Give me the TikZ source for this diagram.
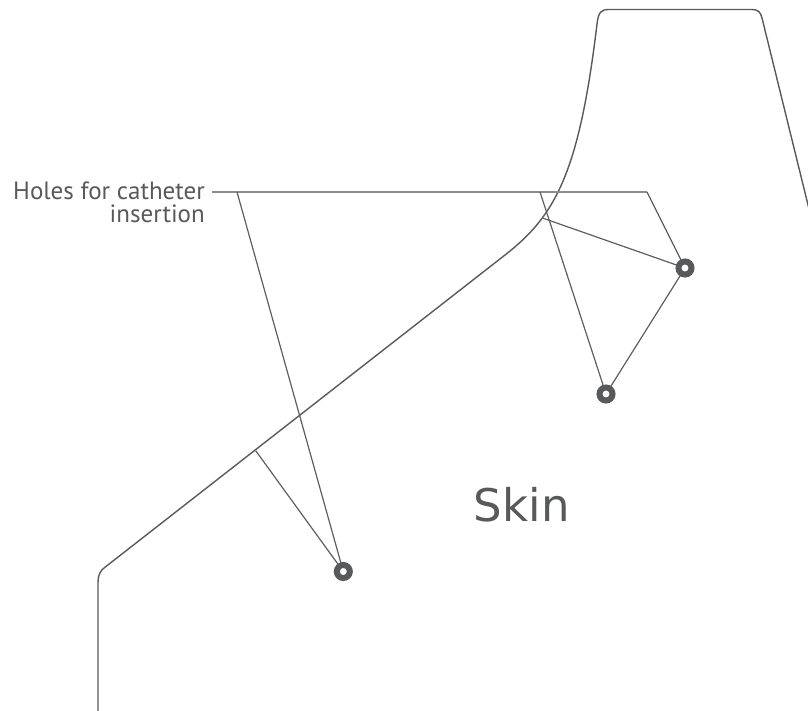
\documentclass[tikz,border=0pt]{standalone}
\usepackage{fontspec}
\setmainfont{PT Sans}
\newfontfamily\skinfont{DejaVu Sans}
\definecolor{ink}{HTML}{58595B}
\definecolor{lead}{HTML}{5E5E5E}
\definecolor{hline}{HTML}{8C8C8C}
\begin{document}
\begin{tikzpicture}[x=1pt,y=-1pt,
  outline/.style={draw=ink,line width=1.4pt,line join=round},
  leader/.style={draw=lead,line width=1.2pt},
  hleader/.style={draw=hline,line width=1.3pt},
  hole/.style={circle,draw=ink,line width=6pt,fill=white,minimum size=13pt,inner sep=0pt,outer sep=0pt},
  lbl/.style={anchor=base east,align=right,inner sep=0pt,text=ink,font=\fontsize{25}{23}\selectfont},
  skinlbl/.style={anchor=base,inner sep=0pt,text=ink,font=\skinfont\fontsize{45}{45}\selectfont}]
\useasboundingbox (0,0) rectangle (808,710);
\clip (0,0) rectangle (808,710);
% skin outline
\draw[outline] (98,716) -- (98,582) .. controls (98,575) and (100.5,570.7) .. (104,568)
  -- (505,255) .. controls (555,216) and (579,174) .. (597,24)
  .. controls (598.5,12) and (601,9.5) .. (609,9.5) -- (752,9.5)
  .. controls (758,9.5) and (760.5,12) .. (762,18) -- (810,213);
% label (base = last line)
\node[lbl] (lbl) at (205,222) {Holes for catheter\\insertion};
\node[skinlbl] (skin) at (521.7,521.7) {Skin};
% coordinates
\coordinate (hl) at (212,192);
\coordinate (hA) at (237,192);
\coordinate (hB) at (540,192);
\coordinate (hr) at (647,192);
\coordinate (sD) at (543.3,218.3);
\coordinate (sE) at (255.7,450.7);
% hole positions
\coordinate (p1) at (685,268);
\coordinate (p2) at (606,394);
\coordinate (p3) at (343.3,571.5);
% leaders
\draw[hleader] (hl) -- (hr);
\draw[leader] (hA) -- (p3);
\draw[leader] (sE) -- (p3);
\draw[leader] (hB) -- (p2);
\draw[leader] (hr) -- (p1);
\draw[leader] (sD) -- (p1);
\draw[leader] (p1) -- (p2);
% holes
\node[hole] (h1) at (p1) {};
\node[hole] (h2) at (p2) {};
\node[hole] (h3) at (p3) {};
\end{tikzpicture}
\end{document}
